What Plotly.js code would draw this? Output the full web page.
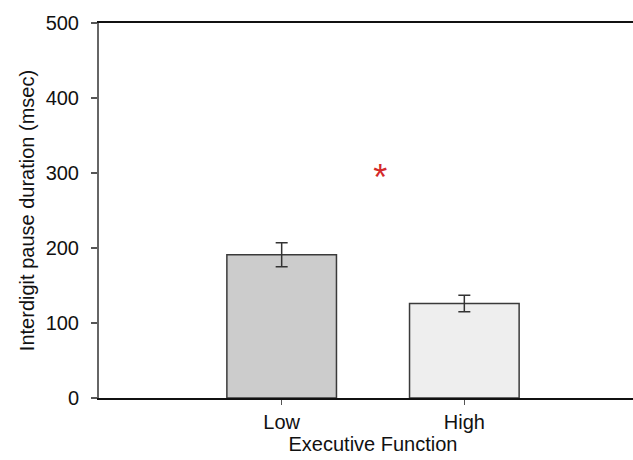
<!DOCTYPE html>
<html>
<head>
<meta charset="utf-8">
<script src="https://cdn.plot.ly/plotly-3.0.1.min.js"></script>
<style>
  html, body { margin: 0; padding: 0; overflow: hidden; background: #fff; }
  #chart { width: 660px; height: 460px; }
</style>
</head>
<body>
<div id="chart"></div>
<script>
// Interdigit pause duration by executive function group
const categories = ["Low", "High"];
const categoryPos = [1, 2];
const meanPause = [191, 126];
const errPause = [16, 11];
const barColors = ["#cccccc", "#eeeeee"];

// significance marker
const sigX = [1.54];
const sigY = [290];
const sigText = ["*"];

const yTicks = [0, 100, 200, 300, 400, 500];

const font = "Liberation Sans, Arial, sans-serif";

const bars = {
  type: "bar",
  x: categoryPos,
  y: meanPause,
  width: 0.6,
  marker: {
    color: barColors,
    line: { color: "#3a3a3a", width: 1.5 }
  },
  error_y: {
    type: "data",
    array: errPause,
    visible: true,
    color: "#333333",
    thickness: 1.5,
    width: 6
  },
  hoverinfo: "skip"
};

const sig = {
  type: "scatter",
  mode: "text",
  x: sigX,
  y: sigY,
  text: sigText,
  textposition: "middle center",
  textfont: { family: font, size: 36, color: "#d42a2a" },
  hoverinfo: "skip"
};

const layout = {
  width: 660,
  height: 460,
  margin: { l: 99, r: 13, t: 23, b: 62 },
  paper_bgcolor: "#ffffff",
  plot_bgcolor: "#ffffff",
  showlegend: false,
  font: { family: font, size: 20, color: "#111111" },
  xaxis: {
    range: [0, 3],
    tickvals: categoryPos,
    ticktext: categories,
    ticks: "outside",
    ticklen: 5,
    tickwidth: 1.5,
    tickcolor: "#555555",
    showline: true,
    linecolor: "#111111",
    linewidth: 2,
    mirror: true,
    showgrid: false,
    zeroline: false,
    tickfont: { family: font, size: 20, color: "#111111" },
    title: { text: "Executive Function", font: { family: font, size: 20, color: "#111111" }, standoff: 2 }
  },
  yaxis: {
    range: [0, 500],
    tickvals: yTicks,
    ticks: "outside",
    ticklen: 6,
    tickwidth: 1.5,
    tickcolor: "#555555",
    showline: true,
    linecolor: "#666666",
    linewidth: 2,
    showgrid: false,
    zeroline: false,
    ticklabelstandoff: 8,
    tickfont: { family: font, size: 20, color: "#111111" },
    title: { text: "Interdigit pause duration (msec)", font: { family: font, size: 20, color: "#111111" }, standoff: 6 }
  }
};

Plotly.newPlot("chart", [bars, sig], layout, { displayModeBar: false, staticPlot: true });
</script>
</body>
</html>
